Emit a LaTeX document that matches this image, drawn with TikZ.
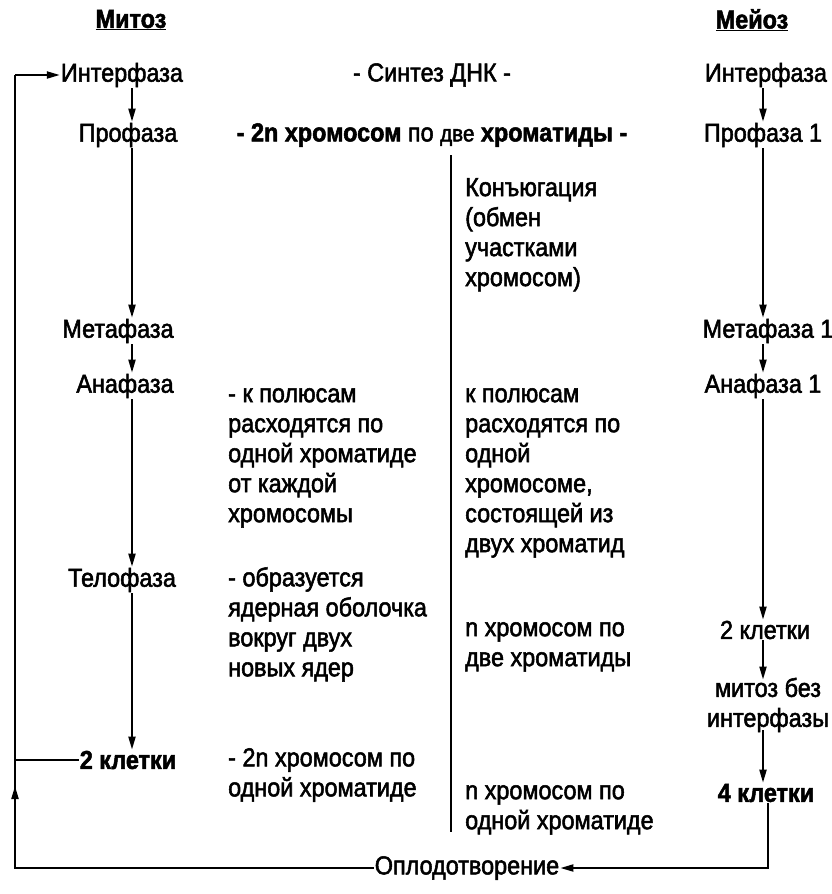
\documentclass[tikz,border=0pt]{standalone}
\usepackage{fontspec}
\setmainfont[FakeStretch=0.9,FakeBold=2]{Liberation Sans}
\usetikzlibrary{arrows.meta,calc}
\begin{document}
\begin{tikzpicture}[x=1pt,y=-1pt,
  every node/.style={font=\fontsize{26}{30}\selectfont, inner sep=1pt},
  blk/.style={anchor=north west, align=left, inner sep=0pt},
  ln/.style={line width=2pt},
  arr/.style={line width=2pt, -{Triangle[length=13pt,width=7pt]}},
  title/.style={font=\fontsize{26}{30}\selectfont\bfseries}
]
\useasboundingbox (0,0) rectangle (832,894);
% titles
\node[title] (mit) at (131,20) {\underline{Митоз}};
\node[title] (mei) at (752,20) {\underline{Мейоз}};
% mitosis column
\node (i1) at (122,75) {Интерфаза};
\node (p1) at (128,135) {Профаза};
\node (m1) at (118,331) {Метафаза};
\node (a1) at (125,386) {Анафаза};
\node (t1) at (122,580) {Телофаза};
\node (k1) at (128,760) {\bfseries 2 клетки};
\coordinate (ax) at (132,0);
\draw[arr] (i1.south -| ax) -- (p1.north -| ax);
\draw[arr] (p1.south -| ax) -- (m1.north -| ax);
\draw[arr] (m1.south -| ax) -- (a1.north -| ax);
\draw[arr] (a1.south -| ax) -- (t1.north -| ax);
\draw[arr] (t1.south -| ax) -- (k1.north -| ax);
% middle header
\node (syn) at (432,75) {- Синтез ДНК -};
\node (chr) at (432,135) {\bfseries - 2n хромосом \mdseries по {\fontsize{23}{30}\selectfont две} \bfseries хроматиды -};
\coordinate (dtop) at (451,155);
\coordinate (dbot) at (451,832);
\draw[ln] (dtop) -- (dbot);
% middle left texts
\node[blk] (apol) at (228,388) {- к полюсам\\расходятся по\\одной хроматиде\\от каждой\\хромосомы};
\node[blk] (obr) at (228,567) {- образуется\\ядерная оболочка\\вокруг двух\\новых ядер};
\node[blk] (k2n) at (228,748) {- 2n хромосом по\\одной хроматиде};
% middle right texts
\node[blk] (kon) at (465,178) {Конъюгация\\(обмен\\участками\\хромосом)};
\node[blk] (mpol) at (465,388) {к полюсам\\расходятся по\\одной\\хромосоме,\\состоящей из\\двух хроматид};
\node[blk] (npo2) at (465,622) {n хромосом по\\две хроматиды};
\node[blk] (npo1) at (465,785) {n хромосом по\\одной хроматиде};
% meiosis column
\node (i2) at (766,75) {Интерфаза};
\node (p2) at (763,135) {Профаза 1};
\node (m2) at (768,331) {Метафаза 1};
\node (a2) at (763,386) {Анафаза 1};
\node (c2) at (765,630) {2 клетки};
\node[align=center, inner sep=0pt] (mb) at (768,705) {митоз без\\интерфазы};
\node (c4) at (766,793) {\bfseries 4 клетки};
\coordinate (bx) at (763,0);
\draw[arr] (i2.south -| bx) -- (p2.north -| bx);
\draw[arr] (p2.south -| bx) -- (m2.north -| bx);
\draw[arr] (m2.south -| bx) -- (a2.north -| bx);
\draw[arr] (a2.south -| bx) -- (c2.north -| bx);
\draw[arr] (c2.south -| bx) -- ([yshift=-2pt]mb.north -| bx);
\draw[arr] ([yshift=2pt]mb.south -| bx) -- (c4.north -| bx);
% fertilisation loop
\node (opl) at (467,868) {Оплодотворение};
\coordinate (rx) at (768,0);
\draw[arr] (c4.south -| rx) |- (opl.east);
\coordinate (lb) at (15,868);
\coordinate (lm) at (15,786);
\coordinate (lt) at (15,75);
\draw[ln] (opl.west) -- (lb) -- (lt);
\draw[arr] (lb) -- (lm);
\draw[arr] (lt) -- (i1.west);
\draw[ln] (k1.west) -- (k1.west -| lb);
\end{tikzpicture}
\end{document}
